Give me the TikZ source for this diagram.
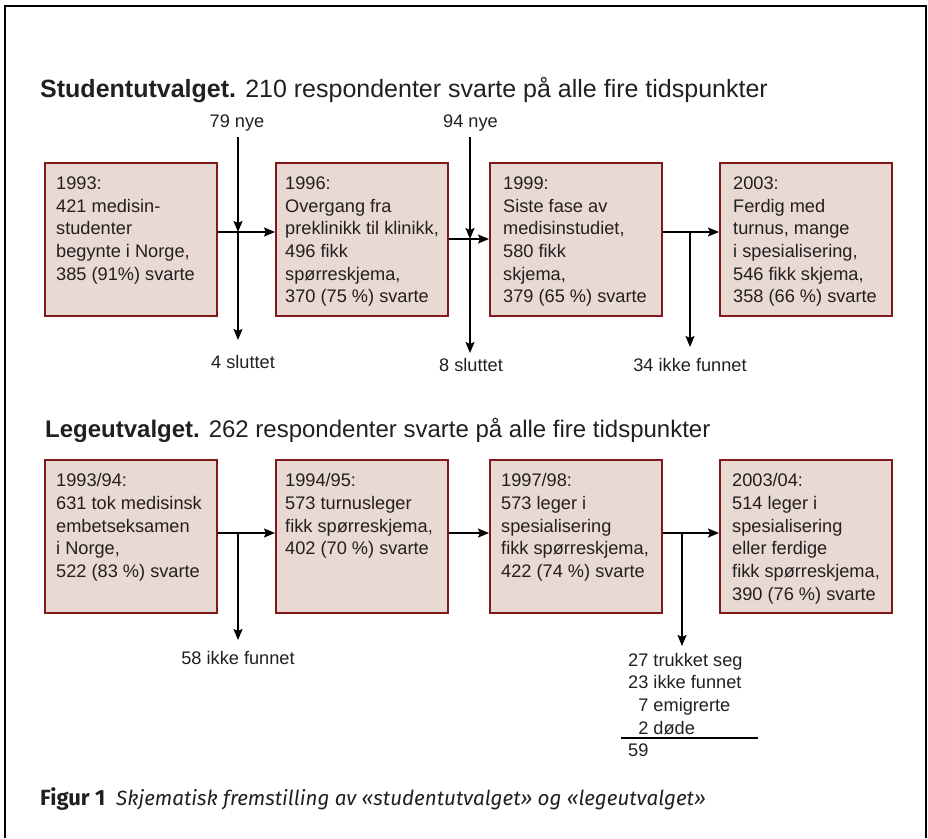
\documentclass[tikz,border=0pt]{standalone}
\usepackage{fontspec}
\setmainfont{Liberation Sans}
\newfontfamily\capfont{Fira Sans}
\usetikzlibrary{arrows.meta}
\definecolor{boxfill}{HTML}{E8DAD2}
\definecolor{boxline}{HTML}{801A1A}
\definecolor{ink}{HTML}{231F20}
\begin{document}
\begin{tikzpicture}[x=1pt,y=-1pt,
  box/.style={draw=boxline, fill=boxfill, line width=2pt, minimum width=172pt, minimum height=153pt, inner sep=0pt, anchor=north west},
  boxtext/.style={anchor=north west, inner sep=0pt, align=left, font=\fontsize{18.2}{22.7}\selectfont, text=ink},
  lbl/.style={inner sep=0pt, font=\fontsize{18.2}{22.7}\selectfont, text=ink},
  title/.style={anchor=base west, inner sep=0pt, text=ink},
  arr/.style={line width=1.6pt, draw=black, -{Stealth[length=11pt,width=9pt,inset=2pt]}},
  ]
\useasboundingbox (0,0) rectangle (928,838);
% frame
\coordinate (fa) at (5,838); \coordinate (fb) at (5,6); \coordinate (fc) at (926,6); \coordinate (fd) at (926,838);
\draw[line width=2pt] (fa) -- (fb) -- (fc) -- (fd);

% titles
\node[title, font=\fontsize{25}{28}\selectfont] (t1) at (40,97) {\textbf{Studentutvalget.} 210 respondenter svarte på alle fire tidspunkter};
\node[title, font=\fontsize{24}{28}\selectfont] (t2) at (45,437) {\textbf{Legeutvalget.} 262 respondenter svarte på alle fire tidspunkter};

% student boxes
\node[box] (b1) at (44,162) {};
\node[box] (b2) at (275,162) {};
\node[box] (b3) at (489,162) {};
\node[box] (b4) at (719,162) {};
\node[boxtext] (tb1) at ([shift={(12pt,-14.5pt)}]b1.north west) {1993:\\421 medisin-\\studenter\\begynte i Norge,\\385 (91\%) svarte};
\node[boxtext] (tb2) at ([shift={(10pt,-14.5pt)}]b2.north west) {1996:\\Overgang fra\\preklinikk til klinikk,\\496 fikk\\spørreskjema,\\370 (75 \%) svarte};
\node[boxtext] (tb3) at ([shift={(14pt,-14.5pt)}]b3.north west) {1999:\\Siste fase av\\medisinstudiet,\\580 fikk\\skjema,\\379 (65 \%) svarte};
\node[boxtext] (tb4) at ([shift={(14pt,-14.5pt)}]b4.north west) {2003:\\Ferdig med\\turnus, mange\\i spesialisering,\\546 fikk skjema,\\358 (66 \%) svarte};

% student connectors
\coordinate (j1) at (238,232); \coordinate (s1) at (238,137); \coordinate (e1) at (238,340);
\coordinate (j2) at (470,239); \coordinate (s2) at (470,137); \coordinate (e2) at (470,353);
\coordinate (j3) at (690,232); \coordinate (e3) at (690,347);
\draw[arr] (b1.east |- j1) -- (b2.west |- j1);
\draw[arr] (b2.east |- j2) -- (b3.west |- j2);
\draw[arr] (b3.east |- j3) -- (b4.west |- j3);
\draw[arr] (s1) -- (j1); \draw[arr] (j1) -- (e1);
\draw[arr] (s2) -- (j2); \draw[arr] (j2) -- (e2);
\draw[arr] (j3) -- (e3);
\node[lbl] (n1) at (237,123) {79 nye};
\node[lbl] (n2) at (470.5,123) {94 nye};
\node[lbl] (d1) at (243,362) {4 sluttet};
\node[lbl] (d2) at (471,365) {8 sluttet};
\node[lbl] (d3) at (690,365) {34 ikke funnet};

% doctor boxes
\node[box] (c1) at (44,459) {};
\node[box] (c2) at (275,459) {};
\node[box] (c3) at (489,459) {};
\node[box] (c4) at (719,459) {};
\node[boxtext] (tc1) at ([shift={(12pt,-14.5pt)}]c1.north west) {1993/94:\\631 tok medisinsk\\embetseksamen\\i Norge,\\522 (83 \%) svarte};
\node[boxtext] (tc2) at ([shift={(10pt,-14.5pt)}]c2.north west) {1994/95:\\573 turnusleger\\fikk spørreskjema,\\402 (70 \%) svarte};
\node[boxtext] (tc3) at ([shift={(12pt,-14.5pt)}]c3.north west) {1997/98:\\573 leger i\\spesialisering\\fikk spørreskjema,\\422 (74 \%) svarte};
\node[boxtext] (tc4) at ([shift={(13pt,-14.5pt)}]c4.north west) {2003/04:\\514 leger i\\spesialisering\\eller ferdige\\fikk spørreskjema,\\390 (76 \%) svarte};

% doctor connectors
\coordinate (k1) at (238,533); \coordinate (f1) at (238,640);
\coordinate (k3) at (682,533); \coordinate (f3) at (682,646);
\draw[arr] (c1.east |- k1) -- (c2.west |- k1);
\draw[arr] (c2.east |- k1) -- (c3.west |- k1);
\draw[arr] (c3.east |- k3) -- (c4.west |- k3);
\draw[arr] (k1) -- (f1);
\draw[arr] (k3) -- (f3);
\node[lbl] (l1) at (238,658) {58 ikke funnet};
\node[lbl, anchor=north west] (l3) at (628,650) {\renewcommand{\arraystretch}{1}\begin{tabular}{@{}r@{\ }l@{}}27 & trukket seg\\23 & ikke funnet\\7 & emigrerte\\2 & døde\end{tabular}};
\coordinate (ra) at (621,738); \coordinate (rb) at (758,738);
\draw[line width=1.6pt] (ra) -- (rb);
\node[lbl, anchor=base west] (sum) at (628,756) {59};

% caption
\node[anchor=base west, inner sep=0pt, text=ink] (cap) at (40,805) {{\capfont\bfseries\fontsize{22}{26}\selectfont Figur 1}\hspace{11pt}{\capfont\itshape\fontsize{20.6}{24}\selectfont Skjematisk fremstilling av «studentutvalget» og «legeutvalget»}};
\end{tikzpicture}
\end{document}
